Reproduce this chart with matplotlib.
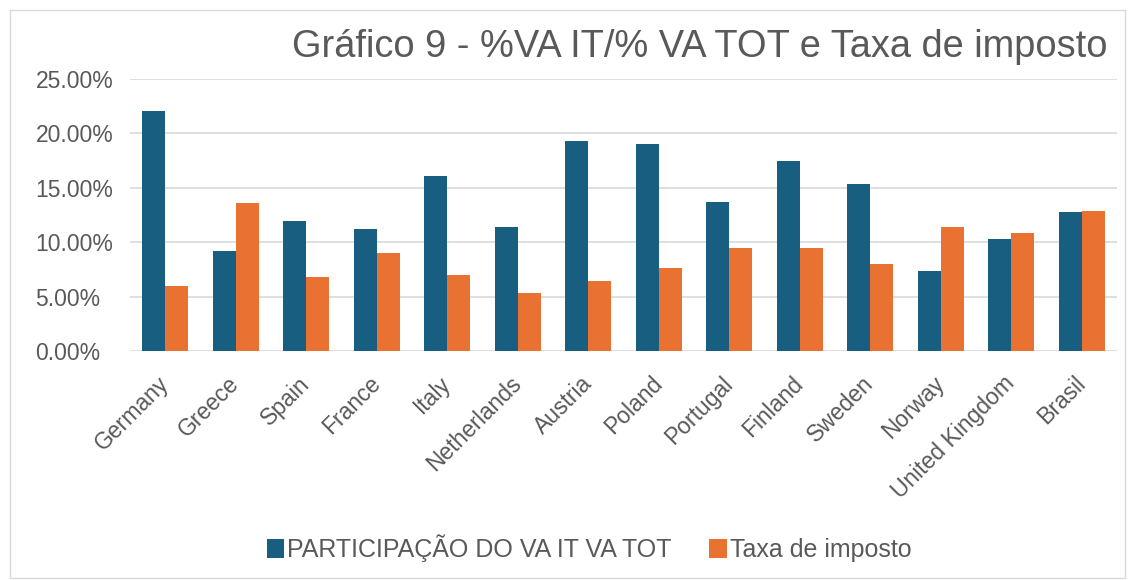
import matplotlib
matplotlib.use("Agg")
import matplotlib.pyplot as plt
import numpy as np
from matplotlib.ticker import FuncFormatter, MultipleLocator

categories = ["Germany", "Greece", "Spain", "France", "Italy", "Netherlands", "Austria",
              "Poland", "Portugal", "Finland", "Sweden", "Norway", "United Kingdom", "Brasil"]
participacao = [22.06, 9.22, 11.95, 11.18, 16.11, 11.43, 19.33,
                19.03, 13.70, 17.46, 15.35, 7.35, 10.29, 12.74]
taxa = [6.00, 13.57, 6.77, 8.98, 6.99, 5.30, 6.46,
        7.60, 9.44, 9.50, 8.03, 11.37, 10.88, 12.87]
series_names = ["PARTICIPAÇÃO DO VA IT VA TOT", "Taxa de imposto"]
title = "Gráfico 9 - %VA IT/% VA TOT e Taxa de imposto"

plt.rcParams['font.family'] = ['Liberation Sans', 'DejaVu Sans']
grey = "#595959"
blue = "#175E81"
orange = "#E97132"

fig = plt.figure(figsize=(11.3, 5.8), dpi=100)
ax = fig.add_axes([130/1130, 1 - 351/580, (1117-130)/1130, (351-79)/580])

x = np.arange(len(categories))
w = 0.326
ax.bar(x - w/2, participacao, w, color=blue, label=series_names[0], zorder=3)
ax.bar(x + w/2, taxa, w, color=orange, label=series_names[1], zorder=3)

ax.set_xlim(-0.5, len(categories) - 0.5)
ax.set_ylim(0, 25)
ax.yaxis.set_major_locator(MultipleLocator(5))
ax.yaxis.set_major_formatter(FuncFormatter(lambda v, p: f"{v:.2f}%"))
ax.grid(axis='y', color='#D9D9D9', linewidth=1.2, zorder=0)
for s in ax.spines.values():
    s.set_visible(False)
ax.tick_params(axis='both', length=0, colors=grey, labelsize=16.5)
ax.tick_params(axis='y', pad=68)
for lab in ax.get_yticklabels():
    lab.set_horizontalalignment('left')
ax.set_xticks(x)
ax.set_xticklabels(categories, rotation=45, ha='right', va='center', rotation_mode='anchor')
ax.tick_params(axis='x', pad=21)

fig.text(1108/1130, 1 - 47/580, title, ha='right', va='center', fontsize=27.4, color=grey)

leg = fig.legend(loc='center', bbox_to_anchor=(589/1130, 1 - 548/580), ncol=2, frameon=False,
                 fontsize=18, handlelength=0.7, handleheight=0.8, handletextpad=0.12,
                 columnspacing=1.5)
for t in leg.get_texts():
    t.set_color(grey)

border = plt.Rectangle((10/1130, 2/580), 1 - 15/1130, 1 - 12/580, transform=fig.transFigure,
                       fill=False, edgecolor='#D9D9D9', linewidth=1)
fig.patches.append(border)

fig.savefig("out.png", dpi=100)
